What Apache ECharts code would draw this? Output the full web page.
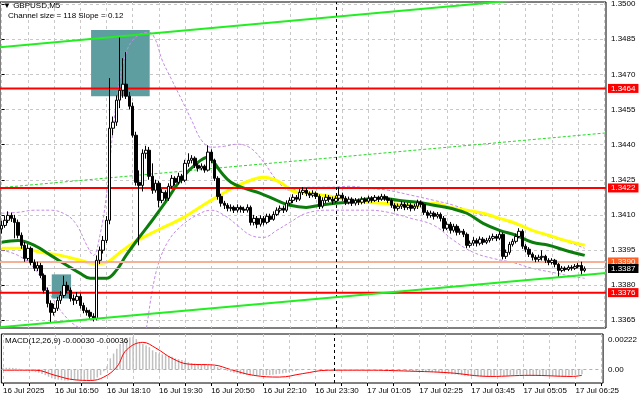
<!DOCTYPE html>
<html><head><meta charset="utf-8">
<script src="https://cdn.jsdelivr.net/npm/echarts@6/dist/echarts.min.js"></script>
<style>html,body{margin:0;padding:0;background:#fff}#c{width:640px;height:401px}</style>
</head><body><div id="c"></div><script>
const symbolTitle = '\u25BC GBPUSD,M5';
const channelText = 'Channel size = 118 Slope = 0.12';
const macdText = 'MACD(12,26,9) -0.00030 -0.00036';
const priceTicks = [1.3365,1.3380,1.3395,1.3410,1.3425,1.3440,1.3455,1.3470,1.3485,1.3500];
const macdTicks = [-0.00084, 0, 0.00222];
const timeLabels = ['16 Jul 2025','16 Jul 16:50','16 Jul 18:10','16 Jul 19:30','16 Jul 20:50','16 Jul 22:10','16 Jul 23:30','17 Jul 01:05','17 Jul 02:25','17 Jul 03:45','17 Jul 05:05','17 Jul 06:25'];
const timeLabelBars = [0,16,32,48,64,80,96,112,128,144,160,176];
const gridBars = [0,8,16,24,32,40,48,56,64,72,80,88,96,104,112,120,128,136,144,152,160,168,176,184];
const barSlots = 185;
const daySeparatorBar = 102;

// [open, close, low, high]
const ohlc = [
[1.34040,1.34055,1.34020,1.34075],[1.34055,1.34077,1.34045,1.34095],[1.34077,1.34098,1.34065,1.34115],[1.34098,1.34085,1.34070,1.34110],
[1.34085,1.34068,1.34000,1.34100],[1.34068,1.34013,1.34000,1.34080],[1.34013,1.33970,1.33955,1.34025],[1.33970,1.33914,1.33900,1.33985],
[1.33914,1.33957,1.33905,1.33975],[1.33957,1.33897,1.33885,1.33965],[1.33897,1.33872,1.33860,1.33910],[1.33872,1.33884,1.33860,1.33900],
[1.33884,1.33842,1.33830,1.33895],[1.33842,1.33778,1.33765,1.33850],[1.33778,1.33722,1.33705,1.33790],[1.33722,1.33684,1.33641,1.33735],
[1.33684,1.33701,1.33670,1.33720],[1.33701,1.33735,1.33690,1.33750],[1.33735,1.33756,1.33720,1.33775],[1.33756,1.33799,1.33745,1.33840],
[1.33799,1.33778,1.33765,1.33815],[1.33778,1.33743,1.33730,1.33790],[1.33743,1.33735,1.33715,1.33760],[1.33735,1.33752,1.33720,1.33770],
[1.33752,1.33713,1.33700,1.33765],[1.33713,1.33692,1.33680,1.33725],[1.33692,1.33684,1.33670,1.33705],[1.33684,1.33667,1.33655,1.33695],
[1.33667,1.33658,1.33645,1.33680],[1.33658,1.33906,1.33650,1.33927],[1.33906,1.33949,1.33890,1.33965],[1.33949,1.33991,1.33935,1.34010],
[1.33991,1.34077,1.33980,1.34095],[1.34077,1.34470,1.34060,1.34684],[1.34470,1.34496,1.34440,1.34520],[1.34496,1.34590,1.34480,1.34610],
[1.34590,1.34632,1.34556,1.34859],[1.34632,1.34658,1.34600,1.34769],[1.34658,1.34607,1.34595,1.34795],[1.34607,1.34564,1.34550,1.34625],
[1.34564,1.34440,1.34430,1.34580],[1.34440,1.34239,1.34225,1.34455],[1.34239,1.34226,1.33970,1.34290],[1.34226,1.34363,1.34200,1.34380],
[1.34363,1.34376,1.34340,1.34395],[1.34376,1.34265,1.34250,1.34390],[1.34265,1.34205,1.34190,1.34320],[1.34205,1.34235,1.34195,1.34250],
[1.34235,1.34162,1.34132,1.34245],[1.34162,1.34196,1.34150,1.34210],[1.34196,1.34171,1.34160,1.34205],[1.34171,1.34222,1.34160,1.34235],
[1.34222,1.34256,1.34210,1.34270],[1.34256,1.34239,1.34225,1.34265],[1.34239,1.34265,1.34230,1.34280],[1.34265,1.34248,1.34235,1.34275],
[1.34248,1.34320,1.34240,1.34335],[1.34320,1.34333,1.34305,1.34363],[1.34333,1.34342,1.34320,1.34355],[1.34342,1.34312,1.34300,1.34350],
[1.34312,1.34299,1.34285,1.34320],[1.34299,1.34308,1.34290,1.34320],[1.34308,1.34291,1.34280,1.34315],[1.34291,1.34368,1.34285,1.34397],
[1.34368,1.34333,1.34320,1.34380],[1.34333,1.34256,1.34245,1.34340],[1.34256,1.34179,1.34165,1.34265],[1.34179,1.34150,1.34135,1.34190],
[1.34150,1.34141,1.34125,1.34160],[1.34141,1.34128,1.34115,1.34150],[1.34128,1.34132,1.34115,1.34145],[1.34132,1.34120,1.34108,1.34140],
[1.34120,1.34132,1.34110,1.34145],[1.34132,1.34124,1.34110,1.34140],[1.34124,1.34120,1.34108,1.34135],[1.34120,1.34132,1.34110,1.34145],
[1.34132,1.34068,1.34055,1.34140],[1.34068,1.34085,1.34055,1.34100],[1.34085,1.34060,1.34043,1.34095],[1.34060,1.34085,1.34050,1.34098],
[1.34085,1.34068,1.34055,1.34095],[1.34068,1.34094,1.34060,1.34105],[1.34094,1.34081,1.34070,1.34105],[1.34081,1.34102,1.34075,1.34115],
[1.34102,1.34120,1.34095,1.34132],[1.34120,1.34128,1.34110,1.34140],[1.34128,1.34120,1.34108,1.34140],[1.34120,1.34150,1.34112,1.34162],
[1.34150,1.34162,1.34140,1.34175],[1.34162,1.34175,1.34150,1.34188],[1.34175,1.34167,1.34155,1.34185],[1.34167,1.34196,1.34160,1.34210],
[1.34196,1.34205,1.34185,1.34218],[1.34205,1.34192,1.34180,1.34215],[1.34192,1.34184,1.34172,1.34200],[1.34184,1.34192,1.34175,1.34205],
[1.34192,1.34179,1.34168,1.34200],[1.34179,1.34137,1.34125,1.34188],[1.34137,1.34162,1.34128,1.34175],[1.34162,1.34175,1.34150,1.34188],
[1.34175,1.34167,1.34155,1.34185],[1.34167,1.34158,1.34145,1.34178],[1.34158,1.34171,1.34150,1.34182],[1.34171,1.34184,1.34160,1.34218],
[1.34184,1.34171,1.34160,1.34195],[1.34171,1.34154,1.34142,1.34180],[1.34154,1.34167,1.34145,1.34178],[1.34167,1.34150,1.34138,1.34175],
[1.34150,1.34162,1.34140,1.34172],[1.34162,1.34154,1.34142,1.34170],[1.34154,1.34167,1.34145,1.34178],[1.34167,1.34158,1.34148,1.34175],
[1.34158,1.34171,1.34150,1.34182],[1.34171,1.34162,1.34152,1.34180],[1.34162,1.34175,1.34155,1.34185],[1.34175,1.34167,1.34155,1.34182],
[1.34167,1.34179,1.34160,1.34190],[1.34179,1.34171,1.34160,1.34188],[1.34171,1.34162,1.34150,1.34180],[1.34162,1.34141,1.34130,1.34170],
[1.34141,1.34128,1.34115,1.34150],[1.34128,1.34137,1.34118,1.34148],[1.34137,1.34145,1.34125,1.34158],[1.34145,1.34132,1.34120,1.34155],
[1.34132,1.34141,1.34122,1.34152],[1.34141,1.34128,1.34115,1.34150],[1.34128,1.34137,1.34118,1.34148],[1.34137,1.34154,1.34125,1.34165],
[1.34154,1.34145,1.34132,1.34162],[1.34145,1.34111,1.34100,1.34152],[1.34111,1.34098,1.34085,1.34120],[1.34098,1.34107,1.34088,1.34118],
[1.34107,1.34094,1.34080,1.34115],[1.34094,1.34102,1.34085,1.34112],[1.34102,1.34085,1.34072,1.34110],[1.34085,1.34043,1.34030,1.34095],
[1.34043,1.34060,1.34035,1.34072],[1.34060,1.34034,1.34020,1.34070],[1.34034,1.34051,1.34025,1.34062],[1.34051,1.34026,1.34012,1.34060],
[1.34026,1.34030,1.34015,1.34042],[1.34030,1.34017,1.34005,1.34040],[1.34017,1.33970,1.33958,1.34025],[1.33970,1.33979,1.33960,1.33990],
[1.33979,1.33991,1.33968,1.34005],[1.33991,1.33979,1.33965,1.34000],[1.33979,1.33996,1.33970,1.34008],[1.33996,1.33983,1.33972,1.34005],
[1.33983,1.33991,1.33975,1.34002],[1.33991,1.34000,1.33982,1.34012],[1.34000,1.34008,1.33990,1.34020],[1.34008,1.34000,1.33988,1.34018],
[1.34000,1.34017,1.33992,1.34030],[1.34017,1.33923,1.33910,1.34025],[1.33923,1.33940,1.33912,1.33952],[1.33940,1.33974,1.33930,1.33985],
[1.33974,1.33987,1.33965,1.33998],[1.33987,1.34008,1.33978,1.34020],[1.34008,1.34030,1.34000,1.34043],[1.34030,1.33966,1.33955,1.34038],
[1.33966,1.33953,1.33940,1.33975],[1.33953,1.33932,1.33920,1.33962],[1.33932,1.33919,1.33905,1.33940],[1.33919,1.33910,1.33898,1.33928],
[1.33910,1.33919,1.33900,1.33930],[1.33919,1.33923,1.33905,1.33949],[1.33923,1.33906,1.33895,1.33930],[1.33906,1.33897,1.33885,1.33915],
[1.33897,1.33906,1.33888,1.33915],[1.33906,1.33889,1.33876,1.33912],[1.33889,1.33863,1.33833,1.33895],[1.33863,1.33872,1.33855,1.33882],
[1.33872,1.33867,1.33858,1.33880],[1.33867,1.33876,1.33860,1.33885],[1.33876,1.33872,1.33862,1.33885],[1.33872,1.33880,1.33865,1.33890],
[1.33880,1.33884,1.33872,1.33895],[1.33884,1.33863,1.33842,1.33900],[1.33863,1.33870,1.33855,1.33880]
];

// moving averages read at sample bars: [bar, price]
const maGreen = [[0,1.33983],[5,1.33991],[10,1.33970],[15,1.33927],[20,1.33884],[24,1.33850],[27,1.33829],[32,1.33829],[35,1.33863],[38,1.33927],[42,1.34004],[46,1.34077],[50,1.34154],[55,1.34256],[60,1.34325],[63,1.34346],[65,1.34320],[67,1.34282],[70,1.34239],[74,1.34214],[79,1.34192],[84,1.34162],[88,1.34141],[93,1.34132],[97,1.34141],[102,1.34150],[106,1.34154],[111,1.34167],[116,1.34171],[121,1.34162],[127,1.34154],[132,1.34141],[137,1.34128],[142,1.34107],[147,1.34064],[152,1.34034],[157,1.34013],[162,1.33983],[167,1.33970],[172,1.33949],[178,1.33927]];
const maYellow = [[0,1.33957],[6,1.33957],[12,1.33940],[18,1.33927],[24,1.33906],[28,1.33893],[32,1.33897],[35,1.33927],[40,1.33979],[45,1.34017],[50,1.34051],[55,1.34085],[61,1.34137],[66,1.34179],[71,1.34218],[76,1.34248],[80,1.34261],[83,1.34252],[86,1.34231],[89,1.34201],[94,1.34192],[98,1.34184],[102,1.34175],[106,1.34162],[111,1.34154],[116,1.34150],[121,1.34145],[127,1.34137],[132,1.34150],[137,1.34132],[142,1.34120],[147,1.34107],[152,1.34085],[157,1.34064],[162,1.34034],[167,1.34013],[172,1.33991],[178,1.33970]];
const bandUpper = [[0,1.34107],[5,1.34111],[10,1.34120],[15,1.34120],[20,1.34098],[23,1.34055],[26,1.33970],[28,1.33927],[30,1.34013],[32,1.34184],[34,1.34462],[36,1.34675],[38,1.34791],[40,1.34846],[43,1.34876],[45,1.34880],[47,1.34846],[49,1.34761],[52,1.34675],[55,1.34590],[58,1.34504],[61,1.34419],[64,1.34389],[68,1.34393],[72,1.34402],[76,1.34385],[80,1.34325],[84,1.34248],[88,1.34205],[93,1.34218],[100,1.34218],[106,1.34222],[112,1.34214],[118,1.34205],[125,1.34184],[132,1.34162],[138,1.34141],[144,1.34111],[150,1.34090],[156,1.34064],[162,1.34034],[168,1.34004],[174,1.33979],[178,1.33957]];
const bandLower = [[0,1.33949],[5,1.33927],[10,1.33872],[15,1.33756],[20,1.33658],[25,1.33607],[28,1.33594],[31,1.33570],[34,1.33521],[38,1.33436],[42,1.33480],[44,1.33602],[46,1.33778],[48,1.33897],[51,1.33991],[55,1.34055],[60,1.34102],[64,1.34120],[68,1.34098],[72,1.34055],[76,1.34013],[80,1.34004],[84,1.34034],[88,1.34068],[93,1.34107],[100,1.34120],[106,1.34120],[112,1.34120],[118,1.34111],[125,1.34085],[132,1.34055],[138,1.33991],[144,1.33940],[150,1.33914],[156,1.33897],[162,1.33872],[168,1.33855],[174,1.33838],[178,1.33829]];

// equidistant channel, [bar, price] at left and right edges
const channelUpper = [[-0.5,1.34816],[184.5,1.35051]];
const channelMiddle = [[-0.5,1.34216],[184.5,1.34450]];
const channelLower = [[-0.5,1.33620],[184.5,1.33852]];

const levelRed = [{v:1.3464,t:'1.3464'},{v:1.34215,t:'1.3422'},{v:1.33768,t:'1.3376'}];
const askLevel = {v:1.33899,t:'1.3390'};
const bidLevel = {v:1.33871,t:'1.3387'};

const zones = [
  {x0:27.3,x1:45.2,p0:1.34889,p1:1.34607},
  {x0:15.3,x1:21.2,p0:1.33846,p1:1.33743}
];

const macdHist = [
0.00012,0.00012,0.00011,0.0001,0.00008,0.00005,0.00002,0.0,
-0.00005,-0.0001,-0.00015,-0.0002,-0.00028,
-0.00035,-0.00045,-0.00055,-0.0006,-0.00063,-0.00066,
-0.00068,-0.00068,-0.00066,-0.00065,-0.00066,-0.00066,-0.00065,-0.00064,-0.00065,
-0.00064,-0.0005,-0.00035,-0.0001,
0.0002,0.0007,0.001,0.0013,0.0016,0.0018,0.0019,0.002,0.00205,0.0019,0.0017,
0.0016,0.0015,0.0014,0.0012,0.0011,0.001,0.00095,
0.0009,0.00085,0.0008,0.0007,0.00065,0.0006,0.00055,0.00045,0.0004,0.00038,
0.00035,0.00032,0.0003,0.00028,0.00025,0.00022,0.00015,0.0001,0.0,-0.00008,
-0.00015,-0.0002,-0.00025,-0.00028,-0.0003,-0.00032,-0.00035,-0.00036,-0.00037,-0.00037,
-0.00036,-0.00035,-0.00034,-0.00032,-0.0003,-0.00027,-0.00024,-0.0002,-0.00016,-0.00012,
-0.00008,-0.00005,-0.00002,0.0,0.00001,0.00002,0.00002,-0.00002,-0.00002,0.0,
0.00001,0.0,0.00002,0.00003,0.00002,0.0,-0.00001,0.0,-0.00002,0.0,
-0.00001,0.0,0.00001,0.0,-0.00001,0.0,0.00001,0.0,0.0,
-0.00003,-0.00005,-0.00006,-0.00007,-0.00008,-0.00008,-0.00009,-0.00009,-0.00008,-0.00008,
-0.0001,-0.00013,-0.00014,-0.00016,-0.00017,-0.00019,-0.00023,-0.00025,-0.00028,-0.00029,
-0.00031,-0.00032,-0.00034,-0.00038,-0.0004,-0.00041,-0.00042,-0.00042,-0.00042,-0.00042,
-0.00041,-0.0004,-0.00039,-0.00037,-0.00039,-0.0004,-0.00039,-0.00037,-0.00034,-0.00031,
-0.00032,-0.00033,-0.00035,-0.00037,-0.00038,-0.00038,-0.00038,-0.00039,-0.0004,-0.0004,
-0.0004,-0.00042,-0.00042,-0.00041,-0.0004,-0.00039,-0.00037,-0.00035,-0.00034,-0.0003
];
const macdSignal = [[0,-0.00004],[10,-0.00004],[16,-0.00036],[22,-0.00064],[27,-0.00068],[31,-0.00047],[35,0.00017],[38,0.00123],[43,0.0017],[47,0.00134],[52,0.0007],[57,0.00034],[65,0.00028],[70,0.0],[77,-0.00036],[85,-0.00047],[92,-0.00026],[100,-0.00004],[112,-0.00004],[125,-0.0001],[137,-0.0002],[150,-0.00043],[162,-0.00036],[175,-0.00043],[178,-0.00036]];

const FONT = 'Liberation Sans';
const FS = 8;
const cats = Array.from({length: barSlots}, (_, i) => String(i));
const chart = echarts.init(document.getElementById('c'), null, {renderer: 'canvas'});

const gridLine = {show: true, lineStyle: {color: '#c8c8c8', type: [3, 3], width: 1}};
const xLeft = -0.5, xRight = barSlots - 0.5;

function levelSeries(name, lvl, color, width, bg, z) {
  return {type: 'line', name: name, xAxisIndex: 1, yAxisIndex: 0, symbol: 'none', z: z, clip: false, silent: true,
    data: [[xLeft, lvl.v], [xRight, lvl.v]],
    lineStyle: {color: color, width: width},
    endLabel: {show: true, formatter: lvl.t, backgroundColor: bg, color: '#fff', fontSize: FS, fontFamily: FONT,
      padding: [1, 3, 0, 3], distance: 2}};
}

const option = {
  animation: false,
  backgroundColor: '#fff',
  textStyle: {fontFamily: FONT},
  grid: [
    {left: 0, top: 2, width: 606, height: 326, show: true, borderColor: '#000', borderWidth: 1, backgroundColor: '#fff'},
    {left: 0, top: 334, width: 606, height: 49, show: true, borderColor: '#000', borderWidth: 1, backgroundColor: '#fff'}
  ],
  xAxis: [
    {type: 'category', gridIndex: 0, data: cats, show: false, boundaryGap: true},
    {type: 'value', gridIndex: 0, min: xLeft, max: xRight,
      axisLine: {show: false}, axisLabel: {show: false},
      axisTick: {show: false, customValues: gridBars}, splitLine: gridLine},
    {type: 'category', gridIndex: 1, data: cats, show: false, boundaryGap: true},
    {type: 'value', gridIndex: 1, min: xLeft, max: xRight, position: 'bottom',
      axisLine: {show: false},
      axisTick: {show: true, length: 3, customValues: gridBars, lineStyle: {color: '#000'}},
      axisLabel: {show: true, customValues: timeLabelBars, formatter: v => timeLabels[timeLabelBars.indexOf(Math.round(v))] || '',
        align: 'left', margin: 4, color: '#000', fontSize: FS, fontFamily: FONT},
      splitLine: gridLine}
  ],
  yAxis: [
    {type: 'value', gridIndex: 0, position: 'right', min: 1.33617, max: 1.35009,
      axisLine: {show: false},
      axisTick: {show: true, length: 3, customValues: priceTicks, lineStyle: {color: '#000'}},
      axisLabel: {customValues: priceTicks, formatter: v => v.toFixed(4), margin: 5, color: '#000', fontSize: FS, fontFamily: FONT},
      splitLine: gridLine},
    {type: 'value', gridIndex: 1, position: 'right', min: -0.00084, max: 0.00222,
      axisLine: {show: false},
      axisTick: {show: false, customValues: macdTicks},
      axisLabel: {customValues: macdTicks, margin: 5, color: '#000', fontSize: FS, fontFamily: FONT,
        formatter: v => v > 0.001 ? '{t|0.00222}' : (v < 0 ? '{b|-0.00084}' : '{m|0.00}'),
        rich: {t: {padding: [12, 0, 0, 0], fontSize: FS}, b: {padding: [0, 0, 13, 0], fontSize: FS}, m: {fontSize: FS}}},
      splitLine: {show: false}}
  ],
  graphic: [
    {type: 'text', left: 3, top: 2, z: 100, style: {text: symbolTitle, font: FS + 'px "' + FONT + '"', fill: '#000'}},
    {type: 'text', left: 8, top: 12, z: 100, style: {text: channelText, font: FS + 'px "' + FONT + '"', fill: '#000'}},
    {type: 'text', left: 5, top: 337, z: 100, style: {text: macdText, font: FS + 'px "' + FONT + '"', fill: '#000'}}
  ],
  series: [
    {type: 'line', name: 'zones', xAxisIndex: 1, yAxisIndex: 0, data: [[xLeft, null]], silent: true, symbol: 'none',
      markArea: {silent: true, z: 1, itemStyle: {color: '#5f9ea0', opacity: 1},
        data: zones.map(z => [{coord: [z.x0, z.p0]}, {coord: [z.x1, z.p1]}])},
      markLine: {silent: true, symbol: 'none', label: {show: false},
        data: [{xAxis: daySeparatorBar, lineStyle: {color: '#000', width: 1, type: [3, 3]}}]}},
    {type: 'line', name: 'bandUpper', xAxisIndex: 1, yAxisIndex: 0, data: bandUpper, smooth: 0.4, symbol: 'none', z: 2,
      lineStyle: {color: '#c68ae6', width: 1, type: [3, 2]}},
    {type: 'line', name: 'bandLower', xAxisIndex: 1, yAxisIndex: 0, data: bandLower, smooth: 0.4, symbol: 'none', z: 2,
      lineStyle: {color: '#c68ae6', width: 1, type: [3, 2]}},
    {type: 'line', name: 'chMid', xAxisIndex: 1, yAxisIndex: 0, data: channelMiddle, symbol: 'none', z: 2,
      lineStyle: {color: '#22dd22', width: 1, type: [3, 2]}},
    {type: 'line', name: 'maYellow', xAxisIndex: 1, yAxisIndex: 0, data: maYellow, smooth: 0.4, symbol: 'none', z: 3,
      lineStyle: {color: '#ffff00', width: 3}},
    {type: 'line', name: 'maGreen', xAxisIndex: 1, yAxisIndex: 0, data: maGreen, smooth: 0.4, symbol: 'none', z: 3,
      lineStyle: {color: '#0c7d0c', width: 3}},
    levelSeries('lvl1', levelRed[0], '#ff0000', 2, '#ff0000', 4),
    levelSeries('lvl2', levelRed[1], '#ff0000', 2, '#ff0000', 4),
    levelSeries('lvl3', levelRed[2], '#ff0000', 2, '#ff0000', 4),
    levelSeries('ask', askLevel, '#f7b095', 2, '#ff5f24', 4),
    levelSeries('bid', bidLevel, '#c0c0c0', 1, '#000000', 4),
    {type: 'candlestick', name: 'GBPUSD', xAxisIndex: 0, yAxisIndex: 0, data: ohlc, barWidth: 3, z: 5,
      itemStyle: {color: '#ffffff', color0: '#000000', borderColor: '#000000', borderColor0: '#000000', borderWidth: 1}},
    {type: 'line', name: 'chUpper', xAxisIndex: 1, yAxisIndex: 0, data: channelUpper, symbol: 'none', z: 6, clip: true,
      lineStyle: {color: '#22ee22', width: 2}},
    {type: 'line', name: 'chLower', xAxisIndex: 1, yAxisIndex: 0, data: channelLower, symbol: 'none', z: 6, clip: true,
      lineStyle: {color: '#22ee22', width: 2}},
    {type: 'bar', name: 'MACD', xAxisIndex: 2, yAxisIndex: 1, data: macdHist, barWidth: 1.5,
      itemStyle: {color: '#c0c0c0'}, z: 2},
    {type: 'line', name: 'Signal', xAxisIndex: 3, yAxisIndex: 1, data: macdSignal, smooth: 0.4, symbol: 'none', z: 4,
      lineStyle: {color: '#ff0000', width: 1},
      markLine: {silent: true, symbol: 'none', label: {show: false},
        data: [
          {yAxis: 0, lineStyle: {color: '#b0b0b0', width: 1, type: [3, 3]}},
          {xAxis: daySeparatorBar, lineStyle: {color: '#000', width: 1, type: [3, 3]}}
        ]}}
  ]
};
chart.setOption(option);
</script></body></html>
